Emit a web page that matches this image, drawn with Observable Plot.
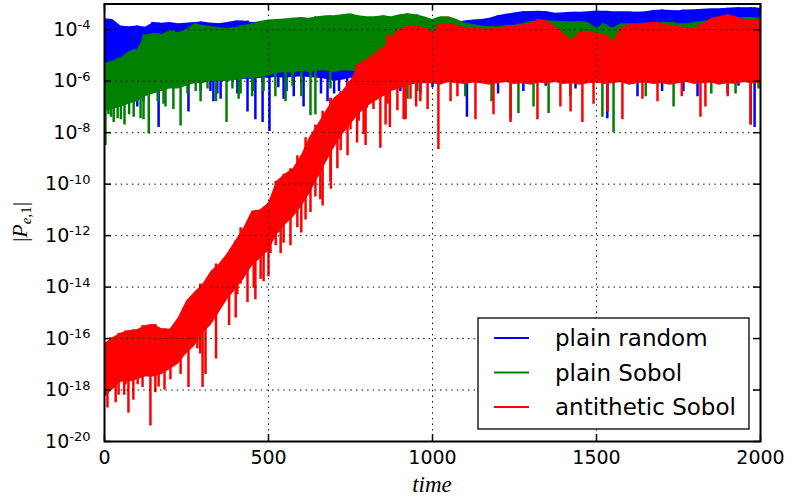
<!DOCTYPE html>
<html>
<head>
<meta charset="utf-8">
<script src="https://cdn.jsdelivr.net/npm/d3@7"></script>
<script src="https://cdn.jsdelivr.net/npm/@observablehq/plot@0.6"></script>
<style>
  html, body { margin: 0; padding: 0; background: #ffffff; }
  #chart { width: 788px; height: 501px; }
</style>
</head>
<body>
<div id="chart"></div>
<script>
// ---------- data ----------
const times = [
  0,25,50,75,100,125,150,175,200,225,
  250,275,300,325,350,375,400,425,450,475,
  500,525,550,575,600,625,650,675,700,725,
  750,775,800,825,850,875,900,925,950,975,
  1000,1025,1050,1075,1100,1125,1150,1175,1200,1225,
  1250,1275,1300,1325,1350,1375,1400,1425,1450,1475,
  1500,1525,1550,1575,1600,1625,1650,1675,1700,1725,
  1750,1775,1800,1825,1850,1875,1900,1925,1950,1975,
  2000
];

const seriesNames = ["plain random", "plain Sobol", "antithetic Sobol"];
const seriesColors = ["#0000ff", "#008000", "#ff0000"];

// plain random: upper envelope and lower edge of the dense band
const randomHigh = [
  2.7e-4,2.5e-4,1.4e-4,1.3e-4,1.4e-4,1.26e-4,1.9e-4,1.8e-4,1.9e-4,1.7e-4,
  1.8e-4,1.9e-4,2.0e-4,1.8e-4,1.7e-4,1.9e-4,2.2e-4,2.2e-4,1.9e-4,2.0e-4,
  1.8e-4,1.7e-4,1.8e-4,1.7e-4,1.8e-4,1.8e-4,1.7e-4,1.8e-4,1.9e-4,1.8e-4,
  1.8e-4,1.7e-4,1.8e-4,1.8e-4,1.9e-4,1.8e-4,1.8e-4,1.7e-4,1.8e-4,1.8e-4,
  1.7e-4,1.8e-4,1.9e-4,2.0e-4,2.2e-4,2.4e-4,2.5e-4,2.8e-4,3.5e-4,4.0e-4,
  4.5e-4,5.0e-4,5.1e-4,5.2e-4,5.0e-4,4.4e-4,4.6e-4,4.8e-4,4.8e-4,5.0e-4,
  5.4e-4,5.2e-4,5.0e-4,5.0e-4,5.0e-4,4.8e-4,5.0e-4,5.6e-4,5.9e-4,5.6e-4,
  5.5e-4,5.8e-4,6.0e-4,6.3e-4,6.5e-4,6.6e-4,6.8e-4,7.2e-4,7.2e-4,7.1e-4,
  6.9e-4
];
const randomLow = [
  1.0e-6,1.0e-6,1.0e-6,1.0e-6,1.0e-6,1.0e-6,1.0e-6,1.0e-6,1.0e-6,1.0e-6,
  1.0e-6,1.0e-6,1.0e-6,1.0e-6,1.0e-6,1.0e-6,1.1e-6,1.2e-6,1.2e-6,1.3e-6,
  1.3e-6,1.4e-6,1.3e-6,1.4e-6,1.5e-6,1.4e-6,1.3e-6,1.2e-6,1.0e-6,1.1e-6,
  1.3e-6,1.2e-6,1.4e-6,1.3e-6,1.3e-6,1.2e-6,1.4e-6,1.3e-6,1.3e-6,1.2e-6,
  1.3e-6,1.2e-6,1.3e-6,1.4e-6,1.3e-6,1.2e-6,1.3e-6,1.3e-6,1.4e-6,1.3e-6,
  1.3e-6,1.2e-6,1.3e-6,1.4e-6,1.3e-6,1.2e-6,1.3e-6,1.3e-6,1.4e-6,1.3e-6,
  1.3e-6,1.2e-6,1.3e-6,1.4e-6,1.3e-6,1.2e-6,1.3e-6,1.3e-6,1.4e-6,1.3e-6,
  1.3e-6,1.2e-6,1.3e-6,1.4e-6,1.3e-6,1.2e-6,1.3e-6,1.3e-6,1.4e-6,1.3e-6,
  1.3e-6
];
const randomSpikeTimes  = [100,119,146,165,256,293,323,332,344,354,405,436,460,482,503,530,546,555,577,607,660,680,700,715,740,832,860,902,963,1000,1105,1200,1277,1345,1436,1533,1625,1700,1765,1808,1900,1933,1970,1982];
const randomSpikeValues = [1.0e-7,1.6e-7,4.0e-7,1.6e-8,6.3e-8,4.0e-7,4.0e-7,1.6e-7,3.2e-7,2.0e-7,3.2e-7,6.3e-8,3.2e-8,2.5e-8,1.1e-8,5.6e-7,2.0e-7,4.0e-7,2.5e-7,1.0e-7,3.2e-7,1.6e-7,3.2e-7,4.0e-7,2.5e-7,6.3e-7,4.0e-7,4.0e-7,3.2e-7,5.6e-7,4.0e-8,3.2e-7,4.0e-7,6.3e-7,5.0e-7,3.5e-8,2.5e-7,4.0e-7,4.0e-7,2.5e-7,3.2e-7,6.3e-7,2.0e-8,1.6e-8];

// plain Sobol
const sobolHigh = [
  4.9e-6,5.9e-6,7.9e-6,1.4e-5,1.7e-5,6.3e-5,7.1e-5,6.6e-5,9.1e-5,7.6e-5,
  1.0e-4,1.7e-4,1.45e-4,1.35e-4,1.2e-4,1.1e-4,1.2e-4,1.45e-4,1.7e-4,2.1e-4,
  2.4e-4,2.5e-4,2.6e-4,2.8e-4,3.0e-4,2.8e-4,3.2e-4,3.5e-4,3.5e-4,3.8e-4,
  4.2e-4,3.5e-4,3.2e-4,3.2e-4,3.5e-4,3.2e-4,3.8e-4,4.2e-4,3.8e-4,3.2e-4,
  2.5e-4,3.2e-4,3.2e-4,2.5e-4,1.8e-4,1.6e-4,1.4e-4,1.3e-4,1.3e-4,1.4e-4,
  1.5e-4,1.7e-4,2.1e-4,2.2e-4,2.2e-4,2.2e-4,2.1e-4,2.0e-4,2.1e-4,1.9e-4,
  1.15e-4,1.7e-4,1.15e-4,1.7e-4,1.7e-4,1.7e-4,1.6e-4,1.7e-4,1.9e-4,1.9e-4,
  1.7e-4,1.7e-4,1.9e-4,2.1e-4,2.4e-4,2.4e-4,2.6e-4,2.8e-4,3.0e-4,3.0e-4,
  2.8e-4
];
const sobolLow = [
  6.3e-8,7.9e-8,1.0e-7,1.26e-7,1.6e-7,2.5e-7,3.2e-7,4.0e-7,5.0e-7,5.0e-7,
  6.3e-7,7.9e-7,7.9e-7,1.0e-6,1.0e-6,1.0e-6,1.1e-6,1.26e-6,1.26e-6,1.4e-6,
  1.6e-6,2.0e-6,2.2e-6,2.0e-6,2.5e-6,2.2e-6,2.5e-6,2.5e-6,2.2e-6,2.5e-6,
  2.5e-6,2.2e-6,2.2e-6,2.0e-6,2.2e-6,2.0e-6,1.8e-6,1.6e-6,1.5e-6,1.4e-6,
  1.2e-6,1.3e-6,1.4e-6,1.3e-6,1.2e-6,1.3e-6,1.4e-6,1.3e-6,1.2e-6,1.3e-6,
  1.2e-6,1.3e-6,1.4e-6,1.3e-6,1.2e-6,1.3e-6,1.4e-6,1.3e-6,1.2e-6,1.3e-6,
  1.2e-6,1.3e-6,1.4e-6,1.3e-6,1.2e-6,1.3e-6,1.4e-6,1.3e-6,1.2e-6,1.3e-6,
  1.2e-6,1.3e-6,1.4e-6,1.3e-6,1.2e-6,1.3e-6,1.4e-6,1.3e-6,1.2e-6,1.3e-6,
  1.3e-6
];
const sobolSpikeTimes  = [3,12,20,28,40,50,61,75,89,110,119,135,162,180,186,201,210,232,253,278,293,314,340,372,390,409,415,450,452,485,521,552,573,600,628,643,689,771,851,924,954,1100,1180,1238,1262,1308,1354,1420,1518,1552,1650,1735,1850,1924,1994];
const sobolSpikeValues = [3.2e-9,5.0e-8,4.0e-8,2.5e-8,3.5e-8,3.2e-8,2.0e-8,5.0e-8,4.0e-8,3.5e-8,3.2e-8,8.9e-9,1.6e-7,1.26e-7,1.0e-7,6.3e-7,7.9e-8,1.8e-8,3.2e-7,4.0e-7,1.6e-7,5.0e-7,1.6e-7,2.5e-8,5.0e-7,2.0e-7,3.2e-7,2.5e-7,4.0e-7,4.0e-7,2.5e-7,1.6e-7,6.3e-7,2.5e-7,4.5e-8,5.0e-8,5.0e-7,7.9e-7,5.6e-7,2.0e-7,4.0e-7,2.5e-7,1.6e-7,3.2e-8,5.6e-8,1.0e-7,5.6e-8,2.5e-7,4.0e-8,1.0e-8,2.5e-7,1.0e-7,3.2e-7,3.2e-7,5.0e-7];

// antithetic Sobol
const antitheticHigh = [
  6.3e-17,1.07e-16,1.6e-16,2.0e-16,2.2e-16,3.2e-16,3.5e-16,2.4e-16,2.3e-16,6.3e-16,
  2.8e-15,6.3e-15,1.3e-14,4.0e-14,7.9e-14,2.0e-13,6.3e-13,2.0e-12,8.9e-12,1.0e-11,
  1.8e-11,1.26e-10,2.4e-10,4.0e-10,1.26e-9,6.3e-9,2.0e-8,6.8e-8,2.2e-7,4.0e-7,
  1.0e-6,4.5e-6,6.9e-6,1.2e-5,1.9e-5,5.5e-5,1.0e-4,1.3e-4,1.45e-4,1.2e-4,
  7.9e-5,1.6e-4,1.7e-4,1.45e-4,1.2e-4,1.15e-4,1.07e-4,1.07e-4,1.15e-4,1.3e-4,
  1.3e-4,1.6e-4,1.8e-4,2.5e-4,2.2e-4,1.3e-4,7.2e-5,4.0e-5,8.5e-5,8.9e-5,
  7.2e-5,6.3e-5,3.5e-5,1.15e-4,1.6e-4,1.6e-4,1.8e-4,1.9e-4,1.7e-4,1.45e-4,
  1.3e-4,1.2e-4,1.15e-4,1.6e-4,2.8e-4,3.2e-4,3.8e-4,3.2e-4,2.5e-4,2.5e-4,
  2.5e-4
];
const antitheticLow = [
  5.0e-19,1.0e-18,2.0e-18,2.0e-18,2.5e-18,3.2e-18,3.2e-18,4.0e-18,6.3e-18,1.0e-17,
  2.5e-17,5.0e-17,1.6e-16,3.2e-16,1.0e-15,3.2e-15,7.9e-15,2.0e-14,6.3e-14,1.26e-13,
  2.5e-13,1.0e-12,2.5e-12,5.0e-12,1.26e-11,4.0e-11,1.6e-10,6.3e-10,2.5e-9,7.9e-9,
  2.0e-8,5.0e-8,1.0e-7,1.6e-7,2.5e-7,4.0e-7,5.0e-7,6.3e-7,7.9e-7,7.9e-7,
  8.0e-7,7.0e-7,9.0e-7,8.0e-7,7.5e-7,8.5e-7,8.0e-7,7.0e-7,8.0e-7,9.0e-7,
  7.5e-7,8.0e-7,7.0e-7,8.5e-7,8.0e-7,9.0e-7,7.5e-7,8.0e-7,7.0e-7,8.0e-7,
  8.5e-7,7.5e-7,8.0e-7,9.0e-7,7.0e-7,8.0e-7,8.5e-7,7.5e-7,8.0e-7,7.0e-7,
  8.0e-7,9.0e-7,7.5e-7,8.0e-7,8.5e-7,7.0e-7,8.0e-7,7.5e-7,9.0e-7,8.0e-7,
  8.0e-7
];
const antitheticSpikeTimes  = [9,18,34,43,60,64,73,88,101,116,140,155,165,183,201,232,256,283,292,299,308,340,380,400,405,415,436,455,460,476,485,500,506,522,537,546,567,588,600,613,628,643,658,665,689,690,710,720,741,750,770,775,790,796,800,820,841,857,863,870,893,912,918,933,950,963,985,1018,1055,1076,1131,1186,1238,1320,1390,1421,1457,1491,1534,1579,1640,1686,1760,1817,1832,1900,1970];
const antitheticSpikeValues = [2.0e-19,1.0e-18,3.2e-19,6.3e-19,6.3e-19,1.6e-18,1.26e-19,4.0e-19,1.6e-18,1.26e-18,4.0e-20,7.9e-19,1.3e-18,1.0e-18,2.5e-18,4.0e-18,1.26e-18,4.0e-17,2.5e-17,1.26e-18,4.0e-18,1.6e-17,3.2e-16,6.3e-16,5.0e-15,1.3e-14,2.5e-15,8.9e-15,3.2e-15,2.0e-14,1.6e-14,2.5e-14,2.0e-13,4.0e-13,2.0e-13,5.0e-13,4.0e-13,2.0e-12,1.26e-12,4.0e-12,7.9e-12,3.2e-11,2.5e-11,1.4e-11,1.26e-10,6.3e-11,4.0e-10,2.0e-9,1.26e-9,1.26e-8,4.0e-9,2.8e-8,8.5e-9,3.2e-9,8.9e-8,7.9e-8,2.5e-9,2.0e-8,1.26e-7,1.6e-8,7.1e-8,3.2e-8,3.2e-8,2.0e-7,1.0e-7,1.6e-7,7.9e-8,2.2e-9,1.6e-7,2.5e-7,3.2e-8,5.0e-8,2.5e-8,3.2e-8,1.0e-7,6.3e-8,2.5e-8,1.26e-7,6.3e-8,3.2e-8,2.0e-7,1.6e-7,2.5e-7,4.0e-8,1.0e-7,2.5e-7,2.0e-8];

// axes
const xTicks = [0, 500, 1000, 1500, 2000];
const xGridTicks = [500, 1000, 1500];
const yTicks = [1e-20, 1e-18, 1e-16, 1e-14, 1e-12, 1e-10, 1e-8, 1e-6, 1e-4];
const yTickExponents = ["-20", "-18", "-16", "-14", "-12", "-10", "-8", "-6", "-4"];
const yGridTicks = [1e-18, 1e-16, 1e-14, 1e-12, 1e-10, 1e-8, 1e-6, 1e-4];
const xLabel = "time";

// ---------- build tables ----------
const highs = [randomHigh, sobolHigh, antitheticHigh];
const lows = [randomLow, sobolLow, antitheticLow];
const spikeTs = [randomSpikeTimes, sobolSpikeTimes, antitheticSpikeTimes];
const spikeVs = [randomSpikeValues, sobolSpikeValues, antitheticSpikeValues];

function bandRows(k) {
  return times.map((t, i) => ({t, hi: highs[k][i], lo: lows[k][i], series: seriesNames[k]}));
}
function spikeRows(k) {
  return spikeTs[k].map((t, i) => {
    const j = d3.leastIndex(times, (a) => Math.abs(a - t));
    return {t, v: spikeVs[k][i], top: highs[k][j], series: seriesNames[k]};
  });
}

const marks = [];
for (let k = 0; k < 3; k++) {
  marks.push(Plot.areaY(bandRows(k), {x: "t", y1: "lo", y2: "hi", fill: seriesColors[k], clip: true}));
  marks.push(Plot.ruleX(spikeRows(k), {x: "t", y1: "v", y2: "top", stroke: seriesColors[k], strokeWidth: 2.5, clip: true}));
}

const gridStyle = {stroke: "#000", strokeOpacity: 1, strokeWidth: 1, strokeDasharray: "1.4,4.2"};
marks.push(Plot.gridX({ticks: xGridTicks, ...gridStyle}));
marks.push(Plot.gridY({ticks: yGridTicks, ...gridStyle}));

// inward tick marks on all four sides (frame is 656 x 437.5)
const tickStroke = {stroke: "#000", strokeWidth: 1.5};
marks.push(Plot.tickX(xTicks, {x: (d) => d, insetTop: 430.5, ...tickStroke}));
marks.push(Plot.tickX(xTicks, {x: (d) => d, insetBottom: 430.5, ...tickStroke}));
marks.push(Plot.tickY(yTicks, {y: (d) => d, insetRight: 649, ...tickStroke}));
marks.push(Plot.tickY(yTicks, {y: (d) => d, insetLeft: 649, ...tickStroke}));

// tick labels
marks.push(Plot.axisX({anchor: "bottom", ticks: xTicks, tickSize: 0, tickPadding: 9, label: null,
  fontSize: 19, tickFormat: (d) => String(d)}));
marks.push(Plot.axisY({anchor: "left", ticks: yTicks, tickSize: 0, tickPadding: 14, label: null,
  fontSize: 19, tickFormat: (d) => "10^" + yTickExponents[yTicks.indexOf(d)]}));

marks.push(Plot.frame({stroke: "#000", strokeWidth: 2}));

const svgNode = Plot.plot({
  width: 788,
  height: 501,
  marginLeft: 104,
  marginRight: 28,
  marginTop: 3.5,
  marginBottom: 60,
  x: {domain: [0, 2000], label: null},
  y: {type: "log", domain: [1e-20, 1e-3], label: null},
  style: {fontFamily: "'DejaVu Sans', sans-serif", fontSize: "19px", color: "#000", background: "#fff", overflow: "visible"},
  marks
});
document.getElementById("chart").appendChild(svgNode);

const svg = d3.select(svgNode);

// superscripts on y tick labels
svg.selectAll('g[aria-label="y-axis tick label"] text').each(function () {
  const s = this.textContent;
  const parts = s.split("^");
  if (parts.length !== 2) return;
  const el = d3.select(this);
  el.text(parts[0]);
  el.append("tspan").attr("dy", "-0.5em").attr("font-size", "13px").text(parts[1]);
});

// axis titles
svg.append("text")
  .attr("x", 432).attr("y", 492)
  .attr("text-anchor", "middle")
  .attr("font-family", "'Liberation Serif', serif")
  .attr("font-style", "italic")
  .attr("font-size", 23)
  .text(xLabel);

const yl = svg.append("text")
  .attr("transform", "translate(27,222) rotate(-90)")
  .attr("text-anchor", "middle")
  .attr("font-family", "'Liberation Serif', serif")
  .attr("font-size", 22);
yl.append("tspan").text("|");
yl.append("tspan").attr("font-style", "italic").text("P");
yl.append("tspan").attr("font-style", "italic").attr("font-size", 15).attr("dy", 4).text("e");
yl.append("tspan").attr("font-size", 15).text(",1");
yl.append("tspan").attr("dy", -4).text("|");

// legend
const lg = svg.append("g").attr("aria-label", "legend").attr("text-anchor", "start");
lg.append("rect")
  .attr("x", 478).attr("y", 318).attr("width", 271).attr("height", 111)
  .attr("fill", "#fff").attr("stroke", "#000").attr("stroke-width", 1.3);
seriesNames.forEach((name, i) => {
  const yy = 338 + i * 34.5;
  lg.append("line")
    .attr("x1", 494).attr("x2", 529).attr("y1", yy).attr("y2", yy)
    .attr("stroke", seriesColors[i]).attr("stroke-width", 2);
  lg.append("text")
    .attr("x", 555).attr("y", yy + 8)
    .attr("text-anchor", "start")
    .attr("font-family", "'DejaVu Sans', sans-serif")
    .attr("font-size", 23)
    .attr("fill", "#000")
    .text(name);
});
</script>
</body>
</html>
